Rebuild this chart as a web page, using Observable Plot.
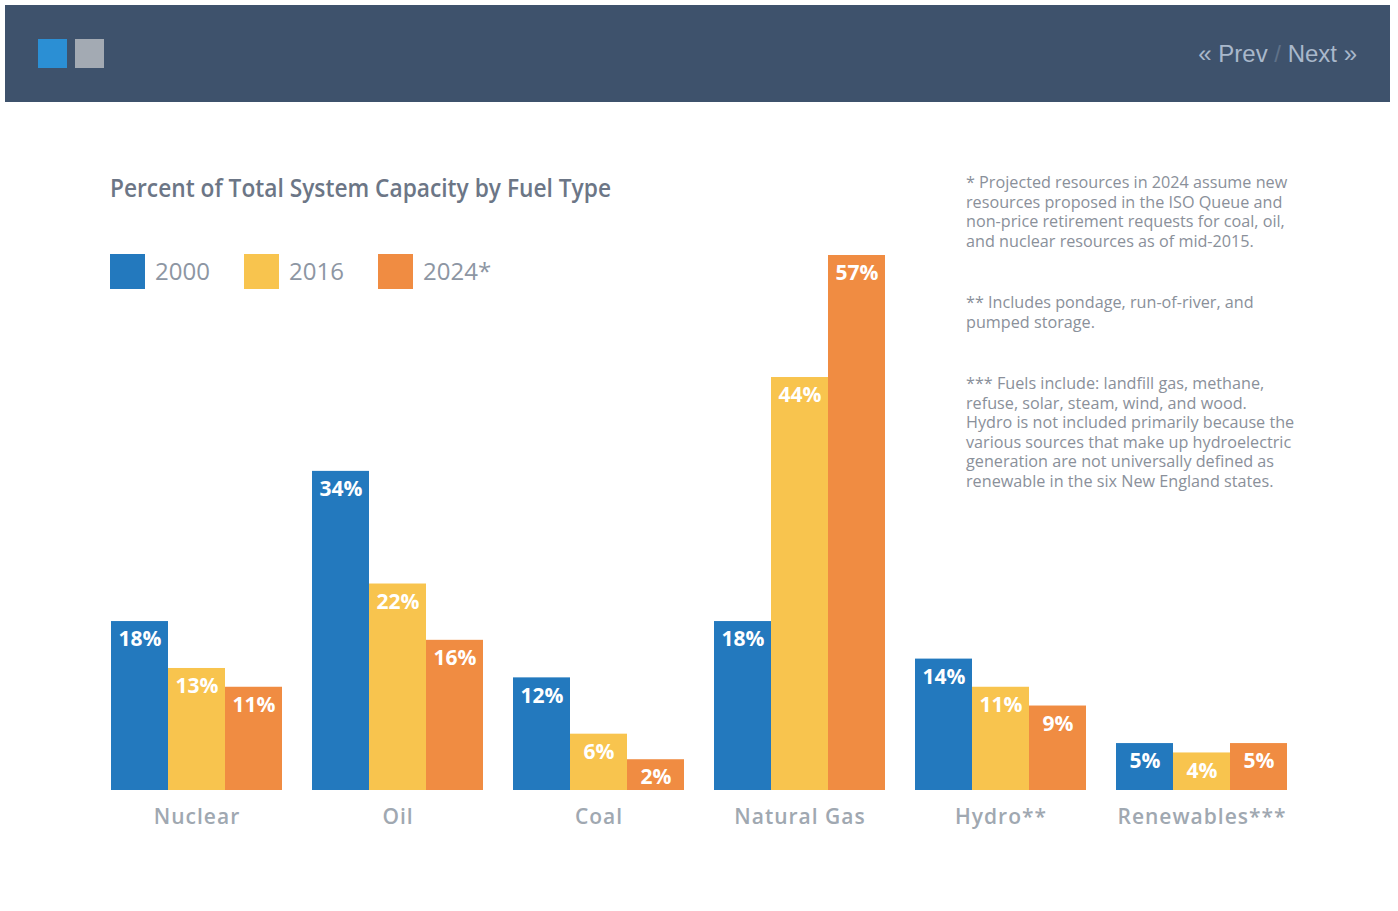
<!DOCTYPE html>
<html>
<head>
<meta charset="utf-8">
<script src="https://cdn.jsdelivr.net/npm/d3@7"></script>
<script src="https://cdn.jsdelivr.net/npm/@observablehq/plot@0.6"></script>
<style>
  html, body { margin: 0; padding: 0; background: #ffffff; }
  #page { position: relative; width: 1398px; height: 911px; overflow: hidden; font-family: "Open Sans", sans-serif; }
  #header { position: absolute; left: 5px; top: 5px; width: 1385px; height: 97px; background: #3e526c; }
  .sq { position: absolute; top: 34px; width: 29px; height: 29px; }
  #nav { position: absolute; right: 33px; top: 35px; font-family: "Liberation Sans", Arial, sans-serif; font-size: 24px; color: #a9b8cb; white-space: nowrap; }
  #nav .sep { color: #5f7188; }
  #title { position: absolute; left: 110px; top: 170px; font-family: "Open Sans", sans-serif; font-weight: 600; font-size: 25px; color: #6c7686; white-space: nowrap; transform-origin: 0 0; }
  #legend { position: absolute; left: 110px; top: 254px; height: 35px; }
  .lg { position: absolute; top: 0; width: 35px; height: 35px; }
  .lt { position: absolute; top: -1px; line-height: 35px; font-size: 24px; color: #8d96a3; white-space: nowrap; }
  .note { position: absolute; left: 966px; font-size: 16.2px; line-height: 19.6px; color: #8a909a; white-space: nowrap; }
  #chart { position: absolute; left: 0; top: 110px; }
</style>
</head>
<body>
<div id="page">
  <div id="header">
    <div class="sq" style="left:33px;background:#2b8fd4;"></div>
    <div class="sq" style="left:70px;background:#a3aab3;"></div>
    <div id="nav">« Prev <span class="sep">/</span> Next »</div>
  </div>
  <div id="title">Percent of Total System Capacity by Fuel Type</div>
  <div id="legend"></div>
  <div class="note" style="top:173px;">* Projected resources in 2024 assume new<br>resources proposed in the ISO Queue and<br>non-price retirement requests for coal, oil,<br>and nuclear resources as of mid-2015.</div>
  <div class="note" style="top:293px;">** Includes pondage, run-of-river, and<br>pumped storage.</div>
  <div class="note" style="top:374px;">*** Fuels include: landfill gas, methane,<br>refuse, solar, steam, wind, and wood.<br>Hydro is not included primarily because the<br>various sources that make up hydroelectric<br>generation are not universally defined as<br>renewable in the six New England states.</div>
  <div id="chart"></div>
</div>
<script>
const fuels = ["Nuclear", "Oil", "Coal", "Natural Gas", "Hydro**", "Renewables***"];
const years = ["2000", "2016", "2024*"];
const colors = ["#2379be", "#f8c44e", "#f08c42"];
const values2000 = [18, 34, 12, 18, 14, 5];
const values2016 = [13, 22, 6, 44, 11, 4];
const values2024 = [11, 16, 2, 57, 9, 5];

const series = [values2000, values2016, values2024];
const data = [];
fuels.forEach((f, i) => {
  years.forEach((y, j) => data.push({fuel: f, year: y, value: series[j][i]}));
});
const small = data.filter(d => d.value < 3);   // very short bars get extra room for their label
const normal = data.filter(d => d.value >= 3);

// legend
const legend = document.getElementById("legend");
const legendX = [0, 134, 268];
years.forEach((y, j) => {
  const s = document.createElement("div");
  s.className = "lg"; s.style.left = legendX[j] + "px"; s.style.background = colors[j];
  legend.appendChild(s);
  const t = document.createElement("div");
  t.className = "lt"; t.style.left = (legendX[j] + 45) + "px"; t.textContent = y;
  legend.appendChild(t);
});

// fit title width
const title = document.getElementById("title");
const tw = title.getBoundingClientRect().width;
title.style.transform = `scaleX(${501 / tw})`;

const labelOpts = {fx: "fuel", x: "year", y: "value", text: d => d.value + "%", fill: "white", fontSize: 21, fontWeight: "bold"};

const chart = Plot.plot({
  width: 1398,
  height: 780,
  marginLeft: 110,
  marginRight: 111,
  marginTop: 145,
  marginBottom: 100,
  style: {fontFamily: "Open Sans, sans-serif", color: "#9ea6b0", background: "transparent"},
  fx: {domain: fuels, paddingInner: 0.15, paddingOuter: 0, label: null, axis: null},
  x: {domain: years, padding: 0, axis: null},
  y: {domain: [0, 57], axis: null},
  color: {domain: years, range: colors},
  marks: [
    Plot.barY(normal, {fx: "fuel", x: "year", y: "value", fill: "year"}),
    Plot.barY(small, {fx: "fuel", x: "year", y: "value", fill: "year", insetTop: -12}),
    Plot.text(normal, {...labelOpts, dy: 18}),
    Plot.text(small, {...labelOpts, dy: 6}),
    Plot.axisFx({anchor: "bottom", tickSize: 0, tickPadding: 19, fontSize: 21, fontWeight: 600, label: null, fill: "#a0a8b1"})
  ]
});
document.getElementById("chart").appendChild(chart);
document.querySelectorAll('#chart g[aria-label="fx-axis tick label"] text').forEach(t => t.setAttribute("letter-spacing", "1"));
</script>
</body>
</html>
